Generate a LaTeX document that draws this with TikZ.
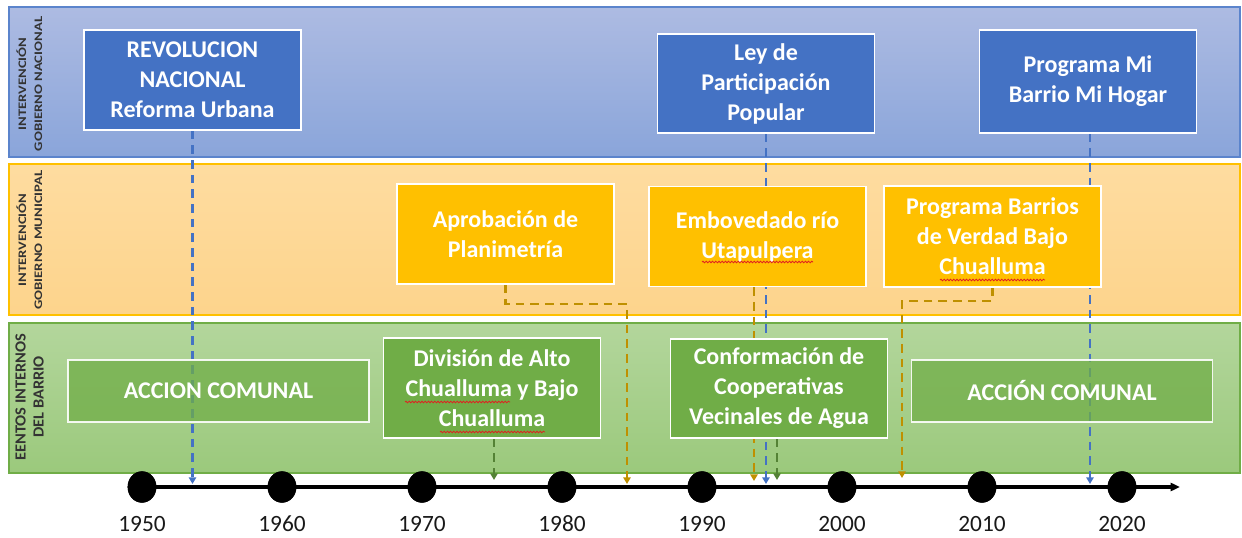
\documentclass[tikz,border=0pt]{standalone}
\usepackage{fontspec}
\setmainfont{Carlito}
\usetikzlibrary{arrows.meta,shapes.geometric,decorations.pathmorphing}
\definecolor{bbT}{HTML}{ADBBE2}
\definecolor{bbB}{HTML}{8AA5DA}
\definecolor{bbD}{HTML}{5B84CC}
\definecolor{boT}{HTML}{FEDCA0}
\definecolor{boB}{HTML}{FDD48C}
\definecolor{boD}{HTML}{FFC000}
\definecolor{bgT}{HTML}{B3D69C}
\definecolor{bgB}{HTML}{9BC97C}
\definecolor{bgD}{HTML}{70AD47}
\definecolor{boxblue}{HTML}{4472C4}
\definecolor{boxorange}{HTML}{FFC000}
\definecolor{boxgreen}{HTML}{70AD47}
\definecolor{lblue}{HTML}{4472C4}
\definecolor{lorange}{HTML}{BF9000}
\definecolor{lgreen}{HTML}{548235}
\definecolor{labtext}{HTML}{333333}
\definecolor{squig}{HTML}{E02020}
\pgfdeclarelayer{bands}
\pgfdeclarelayer{links}
\pgfsetlayers{bands,links,main}
\tikzset{
  evbox/.style={draw=white, line width=1.2pt, text=white, align=center, inner sep=2pt,
    font=\bfseries\fontsize{18}{22.5}\selectfont},
  natbox/.style={evbox, fill=boxblue, minimum width=163pt, minimum height=75pt},
  munbox/.style={evbox, fill=boxorange, minimum width=163pt, minimum height=75pt},
  barbox/.style={evbox, fill=boxgreen, minimum width=163pt, minimum height=75pt},
  combox/.style={evbox, fill=boxgreen, fill opacity=0.75, text opacity=1, draw opacity=0.9,
    minimum width=226pt, minimum height=46.5pt},
  link/.style={line width=1.9pt, dash pattern=on 6.5pt off 4.5pt, -{Triangle[length=5pt,width=5.5pt]}},
  sidelab/.style={rotate=90, text=labtext, inner sep=0pt},
  dot/.style={ellipse, fill=black, minimum width=21.5pt, minimum height=23.5pt, inner sep=0pt},
  yearlab/.style={font=\fontsize{17.5}{20}\selectfont, text=black!90},
  wavy/.style={squig, line width=0.6pt, decorate, decoration={snake, amplitude=0.6pt, segment length=2.4pt}}
}
\begin{document}
\begin{tikzpicture}[x=0.75pt,y=-0.75pt]
\useasboundingbox (0,0) rectangle (1242,538);

\begin{pgfonlayer}{bands}
\fill[white] (0,0) rectangle (1242,538);
\shade[top color=bbT, bottom color=bbB] (9,7) rectangle (1240,157);
\draw[bbD, line width=1.2pt] (9,7) rectangle (1240,157);
\shade[top color=boT, bottom color=boB] (9,164) rectangle (1240,315);
\draw[boD, line width=1.5pt] (9,164) rectangle (1240,315);
\shade[top color=bgT, bottom color=bgB] (9,323) rectangle (1240,473);
\draw[bgD, line width=1.2pt] (9,323) rectangle (1240,473);
\end{pgfonlayer}

% side labels
\node[sidelab, font=\bfseries\fontsize{8.6}{12}\selectfont] (lab1) at (31,84)
  {\scalebox{1.28}[1]{\begin{tabular}{@{}c@{}}INTERVENCIÓN\\GOBIERNO NACIONAL\end{tabular}}};
\node[sidelab, font=\bfseries\fontsize{8.6}{12}\selectfont] (lab2) at (31,240)
  {\scalebox{1.28}[1]{\begin{tabular}{@{}c@{}}INTERVENCIÓN\\GOBIERNO MUNICIPAL\end{tabular}}};
\node[sidelab, font=\bfseries\fontsize{11.6}{13.5}\selectfont] (lab3) at (31,397)
  {\scalebox{1.06}[1]{\begin{tabular}{@{}c@{}}EENTOS INTERNOS\\DEL BARRIO\end{tabular}}};

% national
\node[natbox] (rev) at (192.5,80) {REVOLUCION\\NACIONAL\\Reforma Urbana};
\node[natbox, minimum height=74.25pt] (ley) at (766,83.5) {Ley de\\Participación\\Popular};
\node[natbox, minimum height=77.25pt] (pmi) at (1088,81.5) {Programa Mi\\Barrio Mi Hogar};
% municipal
\node[munbox] (apr) at (505.5,234) {Aprobación de\\Planimetría};
\node[munbox] (emb) at (757.5,236.5) {Embovedado río\\Utapulpera};
\node[munbox, minimum height=75.75pt] (pbv) at (992.5,236.5) {Programa Barrios\\de Verdad Bajo\\Chualluma};
% barrio
\node[combox] (ac1) at (218.5,391) {ACCION COMUNAL};
\node[barbox] (div) at (492,388) {División de Alto\\Chualluma y Bajo\\Chualluma};
\node[barbox, minimum height=74.25pt] (con) at (779,388.5) {Conformación de\\Cooperativas\\Vecinales de Agua};
\node[combox] (ac2) at (1062,391) {ACCIÓN COMUNAL};

% spell-check squiggles
\draw[wavy] (702,262) -- (813,262);
\draw[wavy] (940,280) -- (1045,280);
\draw[wavy] (405,402) -- (510,402);
\draw[wavy] (440,432) -- (545,432);

% timeline
\coordinate (tlend) at (1180,487);
\foreach \yr/\xx in {1950/142,1960/282,1970/422,1980/562,1990/702,2000/842,2010/982,2020/1122}{
  \node[dot] (d\yr) at (\xx,487) {};
  \node[yearlab] (y\yr) at (\xx,524) {\yr};
}
\draw[line width=2.3pt, -{Triangle[length=7pt,width=6pt]}] (d1950.center) -- (tlend);
\foreach \yr in {1950,1960,1970,1980,1990,2000,2010,2020}{\node[dot] at (d\yr) {};}

% connector ends
\coordinate (t1) at (192.5,484);
\coordinate (t2) at (766,484);
\coordinate (t3) at (1090,484);
\coordinate (e1) at (627,304);
\coordinate (t4) at (627,484);
\coordinate (t5) at (754,481);
\coordinate (e2) at (902,301);
\coordinate (t6) at (902,478);
\coordinate (t7) at (494,480);
\coordinate (t8) at (777,480);

\begin{pgfonlayer}{links}
\draw[link, lblue] (rev.south) -- (t1);
\draw[link, lblue] (ley.south) -- (t2);
\draw[link, lblue] (pmi.south -| t3) -- (t3);
\draw[link, lorange] (apr.south) |- (e1) -- (t4);
\draw[link, lorange] (emb.south -| t5) -- (t5);
\draw[link, lorange] (pbv.south) |- (e2) -- (t6);
\draw[link, lgreen] (div.south -| t7) -- (t7);
\draw[link, lgreen] (con.south -| t8) -- (t8);
\end{pgfonlayer}
\end{tikzpicture}
\end{document}
